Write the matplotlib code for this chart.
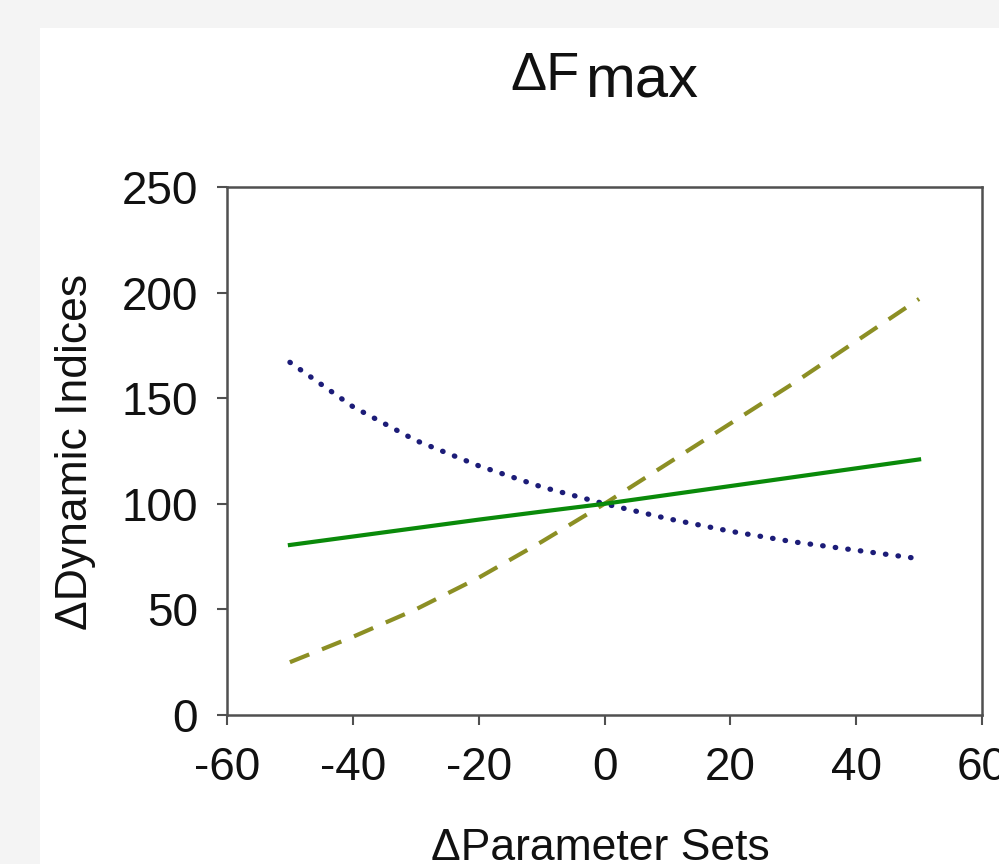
import matplotlib
matplotlib.use("Agg")
import matplotlib.pyplot as plt
from matplotlib.patches import Rectangle

plt.rcParams['font.family'] = ['Liberation Sans', 'DejaVu Sans']

x_vals = [-50, -40, -30, -20, -10, 0, 10, 20, 30, 40, 50]
solid_green = [80.5, 84.5, 88.5, 92.5, 96.3, 100, 104.2, 108.4, 112.6, 116.8, 121]
dashed_olive = [25, 37, 50, 65, 82, 100, 119, 138, 157, 177, 197]
dotted_blue = [167, 146, 130, 118, 108, 100, 93, 87, 82, 78, 74]

x_ticks = [-60, -40, -20, 0, 20, 40, 60]
y_ticks = [0, 50, 100, 150, 200, 250]

fig = plt.figure(figsize=(9.99, 8.64), dpi=100)
fig.patch.set_facecolor('#f4f4f4')
fig.patches.append(Rectangle((40/999, 0), 1, 1 - 28/864, transform=fig.transFigure,
                             facecolor='white', edgecolor='none', zorder=-5))

ax = fig.add_axes([227/999, 1 - 715/864, (982 - 227)/999, (715 - 187)/864])
ax.set_facecolor('white')
ax.set_zorder(1)

ax.plot(x_vals, dotted_blue, color='#1c1c78', linestyle=(0, (0.1, 2.3)), linewidth=3.8,
        dash_capstyle='round')
ax.plot(x_vals, dashed_olive, color='#8c8f24', linestyle=(0, (5, 3.3)), linewidth=3)
ax.plot(x_vals, solid_green, color='#0a8a0a', linestyle='-', linewidth=3)

ax.set_xlim(-60, 60)
ax.set_ylim(0, 250)
ax.set_xticks(x_ticks)
ax.set_yticks(y_ticks)
ax.set_xticklabels([str(v) for v in x_ticks])
ax.set_yticklabels([str(v) for v in y_ticks])

for s in ax.spines.values():
    s.set_color('#505050')
    s.set_linewidth(1.8)
ax.tick_params(axis='both', direction='out', length=7, width=1.5, color='#505050',
               labelsize=33, labelcolor='#111111')
ax.tick_params(axis='x', pad=15)
ax.tick_params(axis='y', pad=14)

fig.text(580/999, 1 - 90/864, '\u0394F', ha='right', va='baseline', fontsize=39, color='#111111')
fig.text(585/999, 1 - 97/864, 'max', ha='left', va='baseline', fontsize=43, color='#111111')

fig.text(76/999, 1 - 452/864, '\u0394Dynamic Indices', rotation=90, ha='center', va='center',
         fontsize=32, color='#111111')
fig.text(600/999, 1 - 860/864, '\u0394Parameter Sets', ha='center', va='baseline',
         fontsize=32, color='#111111')

fig.savefig('out.png', dpi=100, facecolor=fig.get_facecolor())
